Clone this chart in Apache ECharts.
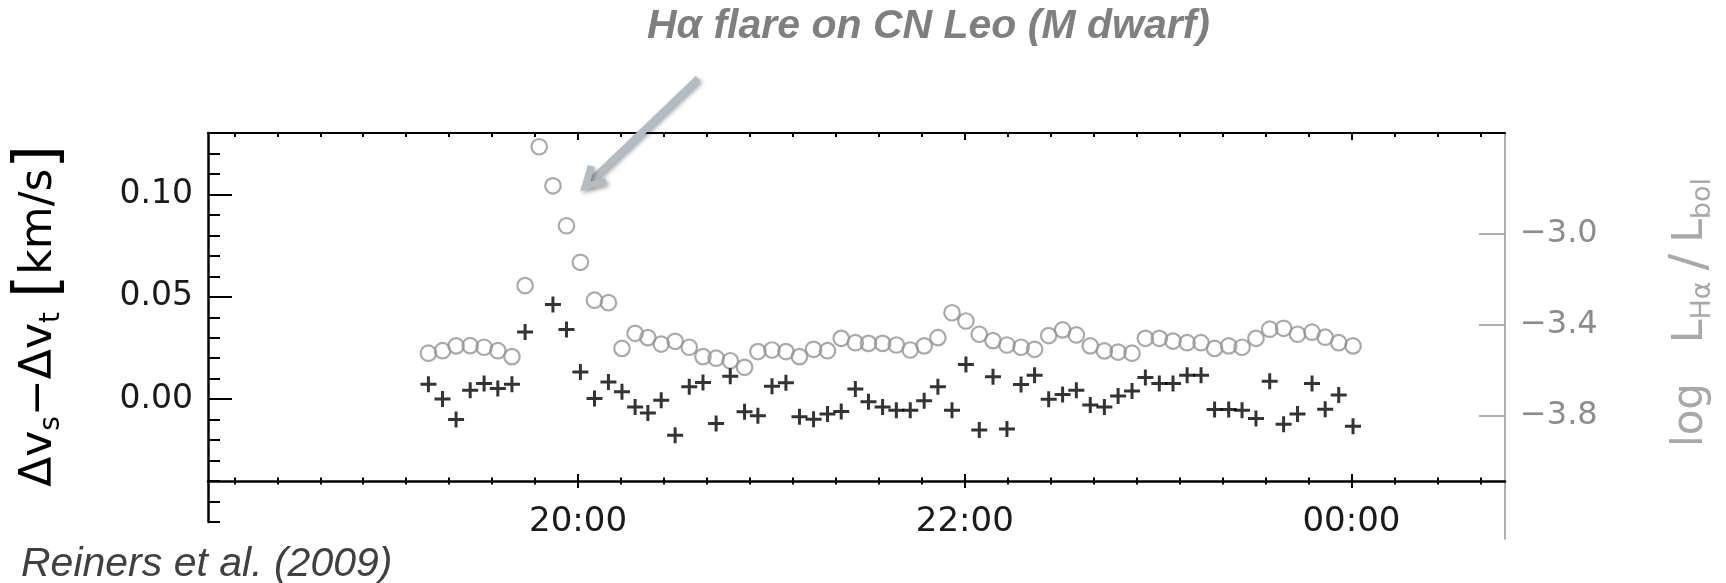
<!DOCTYPE html>
<html>
<head>
<meta charset="utf-8">
<script src="https://cdn.jsdelivr.net/npm/echarts@6/dist/echarts.min.js"></script>
<style>
html,body{margin:0;padding:0;background:#fff;}
#main{width:1726px;height:583px;}
</style>
</head>
<body>
<div id="main"></div>
<script>
// ---- data (hours of UT; 24 = 00:00) ----
const times = [19.226,19.299,19.369,19.442,19.514,19.585,19.658,19.726,19.799,19.870,
  19.940,20.012,20.085,20.157,20.227,20.295,20.361,20.430,20.502,20.575,
  20.646,20.714,20.787,20.861,20.930,21.003,21.075,21.145,21.218,21.290,
  21.361,21.434,21.502,21.575,21.646,21.718,21.790,21.861,21.934,22.006,
  22.075,22.146,22.218,22.291,22.361,22.434,22.506,22.577,22.649,22.722,
  22.793,22.865,22.934,23.006,23.077,23.150,23.222,23.292,23.365,23.434,
  23.506,23.577,23.649,23.721,23.796,23.864,23.934,24.008];
// Δv_s − Δv_t [km/s] (crosses, left axis)
const dvVals = [0.0073,0.0001,-0.0099,0.0044,0.0077,0.0052,0.0073,0.0328,null,0.0462,
  0.0340,0.0133,0.0003,0.0084,0.0036,-0.0038,-0.0067,-0.0005,-0.0176,0.0060,
  0.0081,-0.0119,0.0112,-0.0062,-0.0081,0.0063,0.0080,-0.0086,-0.0098,-0.0073,
  -0.0060,0.0050,-0.0013,-0.0038,-0.0054,-0.0054,-0.0008,0.0060,-0.0054,0.0169,
  -0.0151,0.0109,-0.0146,0.0072,0.0117,0.0000,0.0023,0.0044,-0.0029,-0.0038,
  0.0015,0.0040,0.0106,0.0077,0.0077,0.0117,0.0117,-0.0050,-0.0050,-0.0054,
  -0.0094,0.0088,-0.0122,-0.0073,0.0077,-0.0049,0.0020,-0.0132];
// log L_Hα/L_bol (open circles, right axis)
const haVals = [-3.525,-3.514,-3.493,-3.492,-3.499,-3.514,-3.540,-3.229,-2.621,-2.792,
  -2.967,-3.127,-3.293,-3.304,-3.504,-3.438,-3.457,-3.485,-3.473,-3.499,
  -3.540,-3.547,-3.558,-3.587,-3.518,-3.511,-3.518,-3.540,-3.508,-3.514,
  -3.460,-3.479,-3.482,-3.482,-3.489,-3.511,-3.493,-3.457,-3.348,-3.384,
  -3.442,-3.470,-3.489,-3.499,-3.508,-3.448,-3.423,-3.445,-3.493,-3.515,
  -3.520,-3.525,-3.460,-3.460,-3.472,-3.479,-3.479,-3.504,-3.493,-3.499,
  -3.460,-3.420,-3.416,-3.442,-3.433,-3.455,-3.479,-3.493];

const xMin = 18.086, xMax = 24.794;
const xMajorTicks = [20, 22, 24];
const xTickLabels = ['20:00', '22:00', '00:00'];
const xMinorTicks = [18.2222,18.4444,18.6667,18.8889,19.1111,19.3333,19.5556,19.7778,
  20.2222,20.4444,20.6667,20.8889,21.1111,21.3333,21.5556,21.7778,
  22.2222,22.4444,22.6667,22.8889,23.1111,23.3333,23.5556,23.7778,
  24.2222,24.4444,24.6667];
const leftMajorTicks = [0, 0.05, 0.10];
const leftMinorTicks = [-0.06,-0.05,-0.04,-0.03,-0.02,-0.01,0.01,0.02,0.03,0.04,
  0.06,0.07,0.08,0.09,0.11,0.12];
const rightTicks = [-3.0, -3.4, -3.8];
// annotation arrow, in (hour, left-axis value) coordinates
const arrowFrom = [20.621, 0.1566];
const arrowTo = [20.026, 0.1029];

const TICKFONT = 'DejaVu Sans';
const chart = echarts.init(document.getElementById('main'), null, {renderer: 'canvas'});

function xAxisBase(extra) {
  return Object.assign({
    type: 'value', gridIndex: 0, min: xMin, max: xMax,
    splitLine: {show: false},
    axisLine: {show: false, onZero: false},
    axisLabel: {show: false},
    axisTick: {show: false}
  }, extra);
}
const blackTick = w => ({color: '#000', width: w});

const option = {
  animation: false,
  backgroundColor: '#fff',
  title: [
    {text: 'Hα flare on CN Leo (M dwarf)', left: 647, top: 6, padding: 0,
     textStyle: {fontFamily: 'Liberation Sans', fontSize: 41, fontWeight: 'bold', fontStyle: 'italic', color: '#7f7f7f'}},
    {text: 'Reiners et al. (2009)', left: 21, top: 544, padding: 0,
     textStyle: {fontFamily: 'Liberation Sans', fontSize: 41, fontWeight: 'normal', fontStyle: 'italic', color: '#404040'}}
  ],
  grid: [
    {left: 208, right: 221, top: 133, bottom: 61},
    {left: 208, right: 221, top: 133, bottom: 44}
  ],
  xAxis: [
    xAxisBase({position: 'bottom', offset: -41,
      axisLine: {show: true, onZero: false, lineStyle: {color: '#000', width: 2.5}},
      axisTick: {show: true, customValues: xMajorTicks, inside: false, length: 7, lineStyle: blackTick(2)},
      axisLabel: {show: true, customValues: xMajorTicks, margin: 24,
        fontFamily: TICKFONT, fontSize: 34, fontWeight: 'normal', color: '#1a1a1a',
        formatter: v => xTickLabels[xMajorTicks.indexOf(Math.round(v))] || ''}}),
    xAxisBase({position: 'bottom', offset: -41,
      axisTick: {show: true, customValues: xMajorTicks, inside: true, length: 7, lineStyle: blackTick(2)}}),
    xAxisBase({position: 'bottom', offset: -41,
      axisTick: {show: true, customValues: xMinorTicks, inside: false, length: 3.5, lineStyle: blackTick(2)}}),
    xAxisBase({position: 'bottom', offset: -41,
      axisTick: {show: true, customValues: xMinorTicks, inside: true, length: 3.5, lineStyle: blackTick(2)}}),
    xAxisBase({position: 'top',
      axisLine: {show: true, onZero: false, lineStyle: {color: '#000', width: 2.2}},
      axisTick: {show: true, customValues: xMajorTicks, inside: true, length: 7, lineStyle: blackTick(2)}}),
    xAxisBase({position: 'top',
      axisTick: {show: true, customValues: xMinorTicks, inside: true, length: 4, lineStyle: blackTick(2)}}),
    xAxisBase({gridIndex: 1, position: 'bottom', show: false})
  ],
  yAxis: [
    {type: 'value', gridIndex: 0, position: 'left', min: -0.06, max: 0.13,
     splitLine: {show: false},
     axisLine: {show: true, onZero: false, lineStyle: {color: '#000', width: 2.5}},
     axisTick: {show: true, customValues: leftMajorTicks, inside: true, length: 24, lineStyle: blackTick(2)},
     axisLabel: {show: true, customValues: leftMajorTicks, margin: 15,
       fontFamily: TICKFONT, fontSize: 33, fontWeight: 'normal', color: '#1a1a1a',
       formatter: v => v.toFixed(2)},
     name: '{m|Δv}{s|s}{m|−Δv}{s|t}{m| }{b|[}{m|km/s}{b|]}',
     nameLocation: 'middle', nameRotate: 90, nameGap: 142,
     nameTextStyle: {padding: [0, 0, 0, 23],
       rich: {
         m: {fontFamily: 'DejaVu Sans', fontSize: 44, lineHeight: 52, color: '#000'},
         b: {fontFamily: 'DejaVu Sans', fontSize: 60, lineHeight: 52, color: '#000'},
         s: {fontFamily: 'DejaVu Sans', fontSize: 28, lineHeight: 28, verticalAlign: 'bottom', color: '#000'}
       }}},
    {type: 'value', gridIndex: 0, position: 'left', min: -0.06, max: 0.13,
     splitLine: {show: false}, axisLine: {show: false, onZero: false}, axisLabel: {show: false},
     axisTick: {show: true, customValues: leftMinorTicks, inside: true, length: 12, lineStyle: blackTick(2)}},
    {type: 'value', gridIndex: 1, position: 'right', min: -4.3385, max: -2.5609,
     splitLine: {show: false},
     axisLine: {show: true, onZero: false, lineStyle: {color: '#9a9a9a', width: 1.6}},
     axisTick: {show: true, customValues: rightTicks, inside: true, length: 26, lineStyle: {color: '#9a9a9a', width: 1.6}},
     axisLabel: {show: true, customValues: rightTicks, margin: 15,
       fontFamily: TICKFONT, fontSize: 32, fontWeight: 'normal', color: '#8c8c8c',
       formatter: v => '−' + Math.abs(v).toFixed(1)},
     name: '{m|log   L}{s|Hα}{b|/}{m|L}{s|bol}',
     nameLocation: 'middle', nameRotate: 90, nameGap: 161,
     nameTextStyle: {padding: [0, 0, 0, 47],
       rich: {
         m: {fontFamily: 'DejaVu Sans', fontSize: 42, lineHeight: 50, color: '#a8a8a8'},
         b: {fontFamily: 'DejaVu Sans', fontSize: 50, lineHeight: 50, color: '#a8a8a8', padding: [0, 11, 0, 11]},
         s: {fontFamily: 'DejaVu Sans', fontSize: 27, lineHeight: 27, verticalAlign: 'bottom', color: '#a8a8a8'}
       }}}
  ],
  series: [
    {type: 'scatter', name: 'Halpha', xAxisIndex: 6, yAxisIndex: 2,
     symbol: 'circle', symbolSize: 15.5,
     itemStyle: {color: 'rgba(0,0,0,0)', borderColor: '#949494', borderWidth: 2.2},
     data: times.map((t, i) => [t, haVals[i]])},
    {type: 'scatter', name: 'dv', xAxisIndex: 0, yAxisIndex: 0,
     symbol: 'path://M6.5,0H9.5V6.5H16V9.5H9.5V16H6.5V9.5H0V6.5H6.5Z', symbolSize: 16,
     itemStyle: {color: '#000'},
     data: times.map((t, i) => [t, dvVals[i]]).filter(d => d[1] !== null)}
  ]
};
chart.setOption(option);

// arrow annotation drawn from data coordinates
const p0 = chart.convertToPixel({xAxisIndex: 0, yAxisIndex: 0}, arrowFrom);
const p1 = chart.convertToPixel({xAxisIndex: 0, yAxisIndex: 0}, arrowTo);
const dx = p0[0] - p1[0], dy = p0[1] - p1[1];
const L = Math.hypot(dx, dy), ux = dx / L, uy = dy / L;
function rot(a, len) {
  const c = Math.cos(a), s = Math.sin(a);
  return [p1[0] + (ux * c - uy * s) * len, p1[1] + (ux * s + uy * c) * len];
}
const barbA = 0.46, barbLen = 24;
const arrowStyle = {stroke: '#b4bcc3', lineWidth: 7, fill: null,
  shadowBlur: 4, shadowColor: 'rgba(0,0,0,0.35)', shadowOffsetX: 2, shadowOffsetY: 2};
chart.setOption({
  graphic: [
    {type: 'line', z: 100, shape: {x1: p0[0], y1: p0[1], x2: p1[0] + ux * 6, y2: p1[1] + uy * 6},
     style: Object.assign({lineCap: 'butt'}, arrowStyle)},
    {type: 'polyline', z: 100, shape: {points: [rot(barbA, barbLen), [p1[0] + ux * 3, p1[1] + uy * 3], rot(-barbA, barbLen)]},
     style: Object.assign({lineJoin: 'miter', lineCap: 'butt'}, arrowStyle)}
  ]
});
</script>
</body>
</html>
